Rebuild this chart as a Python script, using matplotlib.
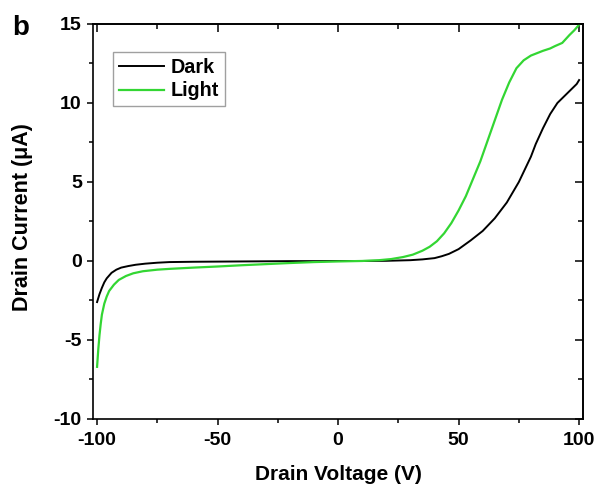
import matplotlib.pyplot as plt
import numpy as np

plt.rcParams['font.family'] = ['Liberation Sans', 'DejaVu Sans']
plt.rcParams['font.weight'] = 'bold'

# Dark curve (V, uA)
v_dark = [-100, -99, -98, -97, -96, -94, -92, -90, -87, -84, -80, -75, -70, -60, -50, -40, -30, -20, -10,
          0, 10, 20, 30, 35, 40, 43, 46, 50, 55, 60, 65, 70, 75, 80, 82, 85, 88, 91, 93, 95, 97, 99, 100]
i_dark = [-2.6, -2.1, -1.7, -1.35, -1.1, -0.75, -0.55, -0.42, -0.32, -0.24, -0.17, -0.11, -0.07, -0.05, -0.04, -0.03, -0.02, -0.01, -0.01,
          0.0, 0.0, 0.01, 0.05, 0.1, 0.18, 0.3, 0.45, 0.75, 1.3, 1.9, 2.7, 3.7, 5.0, 6.6, 7.4, 8.4, 9.3, 10.0, 10.3, 10.6, 10.9, 11.2, 11.45]

# Light curve (V, uA)
v_light = [-100, -99.5, -99, -98.5, -98, -97, -96, -95, -93, -91, -88, -85, -81, -75, -70, -60, -50, -40, -30, -20, -10,
           0, 10, 17, 22, 27, 31, 35, 38, 41, 44, 47, 50, 53, 56, 59, 62, 65, 68, 71, 74, 77, 80, 85, 88, 90, 93, 96, 98, 100]
i_light = [-6.7, -5.6, -4.7, -4.0, -3.4, -2.7, -2.25, -1.9, -1.5, -1.2, -0.95, -0.78, -0.65, -0.55, -0.5, -0.42, -0.35, -0.27, -0.2, -0.13, -0.07,
           -0.03, 0.0, 0.05, 0.12, 0.25, 0.4, 0.65, 0.9, 1.25, 1.75, 2.4, 3.2, 4.1, 5.2, 6.3, 7.6, 8.9, 10.2, 11.3, 12.2, 12.7, 13.0, 13.3, 13.45, 13.6, 13.8, 14.3, 14.6, 14.95]

xmajor = [-100, -50, 0, 50, 100]
xlabels = ['-100', '-50', '0', '50', '100']
ymajor = [-10, -5, 0, 5, 10, 15]
ylabels = ['-10', '-5', '0', '5', '10', '15']

fig = plt.figure(figsize=(6.01, 4.86), dpi=100)
ax = fig.add_axes([0.1547, 0.1379, 0.8153, 0.8128])

ax.plot(v_dark, i_dark, color='black', linewidth=1.4, label='Dark')
ax.plot(v_light, i_light, color='#33d633', linewidth=1.6, label='Light')

ax.set_xlim(-101.7, 101.6)
ax.set_ylim(-10, 15)
ax.set_xticks(xmajor)
ax.set_xticks(np.arange(-100, 101, 25), minor=True)
ax.set_yticks(ymajor)
ax.set_yticks(np.arange(-10, 16, 2.5), minor=True)
ax.set_xticklabels(xlabels)
ax.set_yticklabels(ylabels)

ax.tick_params(which='both', direction='out', labelsize=14, width=1.1)
ax.tick_params(which='major', length=4.5)
ax.tick_params(which='minor', length=3)
ax.tick_params(axis='x', pad=5)
for sp in ax.spines.values():
    sp.set_linewidth(1.2)

# mirror ticks on top and right, pointing inward
top = ax.secondary_xaxis('top')
top.set_xticks(np.arange(-100, 101, 50))
top.set_xticks(np.arange(-100, 101, 25), minor=True)
top.tick_params(which='both', direction='in', labeltop=False, width=1.1)
top.tick_params(which='major', length=5.5)
top.tick_params(which='minor', length=3.5)
top.spines['top'].set_linewidth(1.2)

right = ax.secondary_yaxis('right')
right.set_yticks(np.arange(-10, 16, 5))
right.set_yticks(np.arange(-10, 16, 2.5), minor=True)
right.tick_params(which='both', direction='in', labelright=False, width=1.1)
right.tick_params(which='major', length=5.5)
right.tick_params(which='minor', length=3.5)
right.spines['right'].set_linewidth(1.2)

ax.set_xlabel('Drain Voltage (V)', fontsize=15, fontweight='bold')
ax.set_ylabel('Drain Current (\u03bcA)', fontsize=15.5, fontweight='bold')
ax.xaxis.set_label_coords(0.5, -0.117)
ax.yaxis.set_label_coords(-0.122, 0.51)

leg = ax.legend(loc='upper left', bbox_to_anchor=(0.041, 0.93), fontsize=14.2, handlelength=2.3,
                fancybox=False, borderaxespad=0, borderpad=0.3, labelspacing=0.25, handletextpad=0.3)
leg.get_frame().set_edgecolor('#888888')
leg.get_frame().set_linewidth(1.0)

fig.text(0.021, 0.928, 'b', fontsize=20, fontweight='bold')

fig.savefig('out.png', dpi=100)
